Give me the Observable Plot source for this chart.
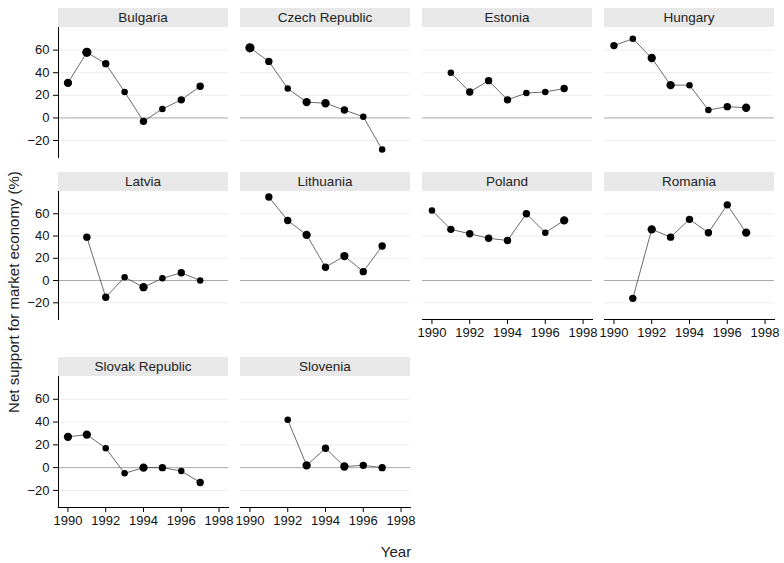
<!DOCTYPE html>
<html>
<head>
<meta charset="utf-8">
<script src="https://cdn.jsdelivr.net/npm/d3@7"></script>
<script src="https://cdn.jsdelivr.net/npm/@observablehq/plot@0.6"></script>
<style>
  body { margin: 0; background: #fff; }
  #chart { position: relative; width: 784px; height: 563px; font-family: "Liberation Sans", Arial, Helvetica, sans-serif; color: #222; overflow: hidden; }
  .strip { position: absolute; background: #e8e8e8; text-align: center; font-size: 13.5px; }
  .panel { position: absolute; }
  .panel svg { overflow: visible; }
  .ytitle { position: absolute; white-space: nowrap; font-size: 15px; transform: translate(-50%, -50%) rotate(-90deg); }
  .xtitle { position: absolute; white-space: nowrap; font-size: 15px; transform: translate(-50%, -50%); }
</style>
</head>
<body>
<div id="chart"></div>
<script>
// ---- data ----
const countries = ["Bulgaria", "Czech Republic", "Estonia", "Hungary", "Latvia", "Lithuania", "Poland", "Romania", "Slovak Republic", "Slovenia"];
const years = [1990, 1991, 1992, 1993, 1994, 1995, 1996, 1997];

const bulgaria       = [31, 58, 48, 23, -3, 8, 16, 28];
const czechRepublic  = [62, 50, 26, 14, 13, 7, 1, -28];
const estonia        = [null, 40, 23, 33, 16, 22, 23, 26];
const hungary        = [64, 70, 53, 29, 29, 7, 10, 9];
const latvia         = [null, 39, -15, 3, -6, 2, 7, 0];
const lithuania      = [null, 75, 54, 41, 12, 22, 8, 31];
const poland         = [63, 46, 42, 38, 36, 60, 43, 54];
const romania        = [null, -16, 46, 39, 55, 43, 68, 43];
const slovakRepublic = [27, 29, 17, -5, 0, 0, -3, -13];
const slovenia       = [null, null, 42, 2, 17, 1, 2, 0];

// relative weight of each observation (drives marker size)
const wBulgaria       = [4, 5, 3, 2, 3, 2, 3, 3];
const wCzechRepublic  = [5, 3, 2, 4, 4, 3, 2, 2];
const wEstonia        = [null, 2, 3, 3, 3, 2, 2, 3];
const wHungary        = [3, 2, 4, 4, 2, 2, 3, 4];
const wLatvia         = [null, 3, 3, 2, 4, 2, 3, 2];
const wLithuania      = [null, 3, 3, 4, 3, 4, 3, 3];
const wPoland         = [2, 3, 3, 3, 3, 3, 2, 4];
const wRomania        = [null, 3, 4, 3, 3, 3, 3, 4];
const wSlovakRepublic = [4, 4, 2, 2, 4, 3, 2, 3];
const wSlovenia       = [null, null, 2, 4, 3, 4, 3, 3];

const support = [bulgaria, czechRepublic, estonia, hungary, latvia, lithuania, poland, romania, slovakRepublic, slovenia];
const weights = [wBulgaria, wCzechRepublic, wEstonia, wHungary, wLatvia, wLithuania, wPoland, wRomania, wSlovakRepublic, wSlovenia];

const xTicks = [1990, 1992, 1994, 1996, 1998];
const yTicks = [-20, 0, 20, 40, 60];
const yGrid = [-20, 20, 40, 60];
const yZero = [0];

// ---- layout ----
const colLeft = [58, 240, 422, 604];
const stripTop = [8, 172, 357];
const stripH = 19;
const plotH = [130, 128, 131];
const W = 170;
const font = "'Liberation Sans', Arial, Helvetica, sans-serif";

const chart = document.getElementById("chart");

countries.forEach((name, i) => {
  const col = i % 4, row = Math.floor(i / 4);
  const isLeft = col === 0;
  const isBottom = i + 4 >= countries.length;
  const mL = isLeft ? 58 : 0;
  const mB = isBottom ? 30 : 0;

  const strip = document.createElement("div");
  strip.className = "strip";
  strip.style.left = colLeft[col] + "px";
  strip.style.top = stripTop[row] + "px";
  strip.style.width = W + "px";
  strip.style.height = stripH + "px";
  strip.style.lineHeight = (stripH + 1) + "px";
  strip.textContent = name;
  chart.appendChild(strip);

  const data = years
    .map((year, j) => ({year, value: support[i][j], weight: weights[i][j]}))
    .filter(d => d.value != null);

  const marks = [
    Plot.ruleY(yGrid, {stroke: "#eeeeee", strokeWidth: 1}),
    Plot.ruleY(yZero, {stroke: "#a8a8a8", strokeWidth: 1}),
    Plot.line(data, {x: "year", y: "value", stroke: "#3a3a3a", strokeWidth: 0.75}),
    Plot.dot(data, {x: "year", y: "value", r: "weight", fill: "#000", stroke: "none"})
  ];
  if (isLeft) {
    marks.push(Plot.axisY({ticks: yTicks, tickSize: 5, tickPadding: 4, fontSize: 13, label: null, stroke: "#000", fill: "#111"}));
    marks.push(Plot.frame({anchor: "left", stroke: "#000"}));
  }
  if (isBottom) {
    marks.push(Plot.axisX({ticks: xTicks, tickFormat: "d", tickSize: 5, tickPadding: 3, fontSize: 13, label: null, stroke: "#000", fill: "#111"}));
    marks.push(Plot.frame({anchor: "bottom", stroke: "#000"}));
  }

  const p = Plot.plot({
    width: W + mL,
    height: plotH[row] + mB,
    marginLeft: mL,
    marginRight: 0,
    marginTop: 0,
    marginBottom: mB,
    style: {fontFamily: font, fontSize: "13px", background: "transparent", overflow: "visible"},
    x: {domain: [1989.5, 1998.5], axis: null},
    y: {domain: [-35, 80], axis: null},
    r: {type: "linear", domain: [1, 5], range: [2.8, 4.6]},
    marks
  });
  const wrap = document.createElement("div");
  wrap.className = "panel";
  wrap.style.left = (colLeft[col] - mL) + "px";
  wrap.style.top = (stripTop[row] + stripH) + "px";
  wrap.appendChild(p);
  chart.appendChild(wrap);
});

const yt = document.createElement("div");
yt.className = "ytitle";
yt.style.left = "13px";
yt.style.top = "292px";
yt.textContent = "Net support for market economy (%)";
chart.appendChild(yt);

const xt = document.createElement("div");
xt.className = "xtitle";
xt.style.left = "396px";
xt.style.top = "551px";
xt.textContent = "Year";
chart.appendChild(xt);
</script>
</body>
</html>
